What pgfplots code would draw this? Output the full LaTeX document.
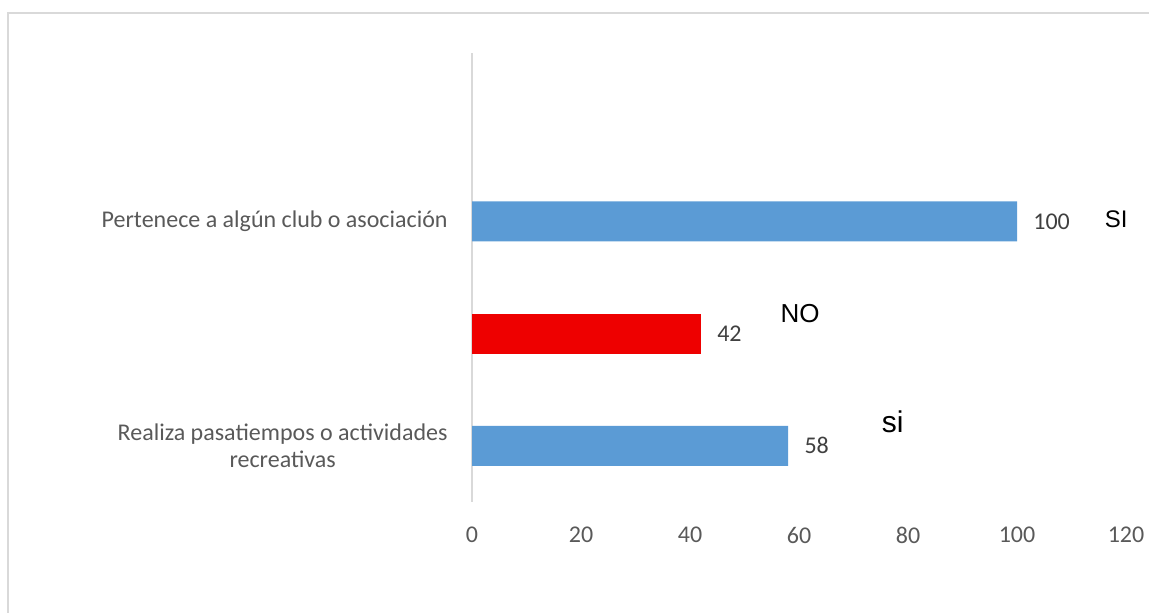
\documentclass[border=0pt]{standalone}
\usepackage{fontspec}
\setmainfont{Carlito}
\newfontfamily\arialf{Liberation Sans}
\usepackage{pgfplots}
\pgfplotsset{compat=1.18}
\definecolor{barblue}{HTML}{5B9BD5}
\definecolor{barred}{HTML}{EE0000}
\definecolor{axgray}{HTML}{D9D9D9}
\definecolor{txtgray}{HTML}{595959}
\definecolor{lblgray}{HTML}{404040}
\begin{document}
\begin{tikzpicture}
\useasboundingbox (0,0) rectangle (574.5pt,306.5pt);
\draw[axgray, line width=0.9pt] (4pt,0) -- (4pt,300pt) -- (574.5pt,300pt);
\begin{axis}[
  at={(236pt,55.5pt)}, anchor=south west,
  scale only axis, width=327pt, height=224.5pt,
  xbar, bar width=20pt, bar shift=0pt,
  xmin=0, xmax=120, ymin=-0.5, ymax=3.5,
  xtick={0,20,40,60,80,100,120},
  ytick={0,1,2,3},
  yticklabels={{Realiza pasatiempos o actividades\\recreativas},{},{Pertenece a algún club o asociación},{}},
  axis lines*=left,
  x axis line style={draw=none},
  y axis line style={draw=axgray, line width=1pt},
  major tick length=0pt,
  /pgf/number format/assume math mode=true,
  xticklabel style={font=\fontsize{12}{14}\selectfont, text=txtgray, inner sep=0pt, anchor=north, yshift=-12.5pt},
  yticklabel style={font=\fontsize{12}{13.5}\selectfont, text=txtgray, inner sep=0pt, anchor=east, xshift=-12pt, align=center},
  nodes near coords,
  nodes near coords style={font=\fontsize{12}{14}\selectfont, text=lblgray, anchor=west, inner sep=0pt, xshift=8pt},
  clip=false,
]
\addplot[fill=barblue, draw=none] coordinates {(58,0) (100,2)};
\addplot[fill=barred, draw=none] coordinates {(42,1)};
\node[anchor=base, font=\arialf\fontsize{12}{14}\selectfont] at (axis cs:118.2,1.941) {SI};
\node[anchor=base, font=\arialf\fontsize{13}{15}\selectfont] at (axis cs:60.2,1.095) {NO};
\node[anchor=base, font=\arialf\fontsize{15}{17}\selectfont] at (axis cs:77.2,0.115) {si};
\end{axis}
\end{tikzpicture}
\end{document}
